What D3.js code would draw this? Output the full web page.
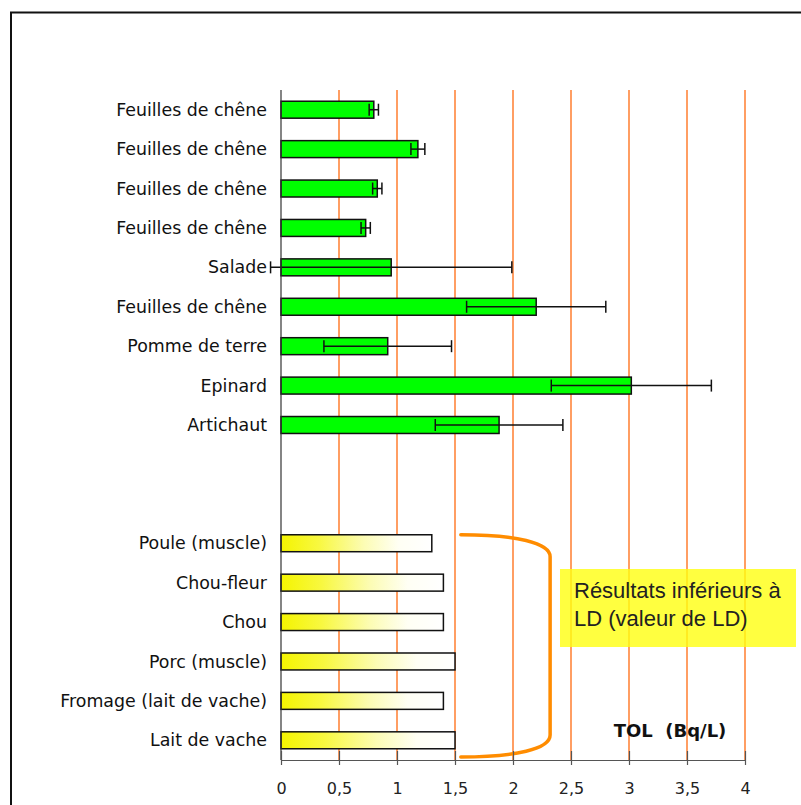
<!DOCTYPE html>
<html>
<head>
<meta charset="utf-8">
<script src="https://cdn.jsdelivr.net/npm/d3@7"></script>
<style>
  html, body { margin: 0; padding: 0; background: #fff; }
  svg { display: block; }
</style>
</head>
<body>
<svg id="chart" width="801" height="805"></svg>
<script>
// ---- data ----
const measuredLabels = ["Feuilles de chêne", "Feuilles de chêne", "Feuilles de chêne", "Feuilles de chêne",
  "Salade", "Feuilles de chêne", "Pomme de terre", "Epinard", "Artichaut"];
const measuredValues = [0.80, 1.18, 0.83, 0.73, 0.95, 2.20, 0.92, 3.02, 1.88];
const measuredErrors = [0.04, 0.06, 0.04, 0.04, 1.04, 0.60, 0.55, 0.69, 0.55];
const gapCount = 2;
const ldLabels = ["Poule (muscle)", "Chou-fleur", "Chou", "Porc (muscle)", "Fromage (lait de vache)", "Lait de vache"];
const ldValues = [1.30, 1.40, 1.40, 1.50, 1.40, 1.50];
const xTicks = [0, 0.5, 1, 1.5, 2, 2.5, 3, 3.5, 4];
const xTickLabels = ["0", "0,5", "1", "1,5", "2", "2,5", "3", "3,5", "4"];
const axisTitle = "TOL  (Bq/L)";
const noteLines = ["Résultats inférieurs à", "LD (valeur de LD)"];

(function () {
// ---- build rows ----
const rows = [];
measuredLabels.forEach((l, i) => rows.push({label: l, value: measuredValues[i], err: measuredErrors[i], type: "m"}));
for (let g = 0; g < gapCount; g++) rows.push({label: "", value: null, type: "gap"});
ldLabels.forEach((l, i) => rows.push({label: l, value: ldValues[i], type: "ld"}));

const svg = d3.select("#chart");
const pL = 281, pR = 745, pT = 90, pB = 760;

const x = d3.scaleLinear().domain([0, 4]).range([pL, pR]);
const y = d3.scaleBand().domain(d3.range(rows.length)).range([pT, pB])
  .paddingInner(0.57).paddingOuter(0.285);

// frame
svg.append("path").attr("d", `M11,820 L11,12.5 L820,12.5`).attr("fill", "none")
  .attr("stroke", "#111").attr("stroke-width", 2);

// defs gradient
const defs = svg.append("defs");
const grad = defs.append("linearGradient").attr("id", "ldgrad").attr("x1", "0").attr("x2", "1").attr("y1", "0").attr("y2", "0");
grad.append("stop").attr("offset", "0").attr("stop-color", "#f4f400");
grad.append("stop").attr("offset", "0.25").attr("stop-color", "#f8f840");
grad.append("stop").attr("offset", "0.55").attr("stop-color", "#fcfcb4");
grad.append("stop").attr("offset", "0.78").attr("stop-color", "#fffff4");
grad.append("stop").attr("offset", "1").attr("stop-color", "#ffffff");

// gridlines
svg.append("g").selectAll("line").data(xTicks.filter(d => d > 0)).join("line")
  .attr("x1", d => Math.round(x(d))).attr("x2", d => Math.round(x(d)))
  .attr("y1", pT).attr("y2", pB)
  .attr("stroke", "#ff6a10").attr("stroke-width", 1.3);

// annotation box
svg.append("rect").attr("x", 560).attr("y", 569).attr("width", 236).attr("height", 78)
  .attr("fill", "#ffff10").attr("opacity", 0.8);
const note = svg.append("text").attr("font-family", "Liberation Sans, Arial, sans-serif")
  .attr("font-size", 22).attr("fill", "#222");
noteLines.forEach((t, i) => note.append("tspan").attr("x", 574).attr("y", 598 + i * 28).text(t));

// bracket
const bTop = y(measuredLabels.length + gapCount);
const bx0 = x(1.55), bx1 = x(2.32);
const bY0 = bTop, bY1 = pB - 3;
const p = d3.path();
p.moveTo(bx0, bY0);
p.bezierCurveTo(bx0 + 55, bY0, bx1, bY0 + 8, bx1, bY0 + 22);
p.lineTo(bx1, bY1 - 22);
p.bezierCurveTo(bx1, bY1 - 8, bx0 + 55, bY1, bx0, bY1);
svg.append("path").attr("d", p.toString()).attr("fill", "none")
  .attr("stroke", "#ff8c00").attr("stroke-width", 3.5).attr("stroke-linecap", "round");

// bars
const bars = svg.append("g");
bars.selectAll("rect").data(rows.map((r, i) => ({...r, i})).filter(r => r.type !== "gap")).join("rect")
  .attr("x", x(0)).attr("y", d => y(d.i))
  .attr("width", d => x(d.value) - x(0)).attr("height", y.bandwidth())
  .attr("fill", d => d.type === "m" ? "#00ff00" : "url(#ldgrad)")
  .attr("stroke", "#111").attr("stroke-width", 1.5);

// error bars
const eb = svg.append("g").attr("stroke", "#111").attr("stroke-width", 1.5);
rows.forEach((r, i) => {
  if (r.type !== "m") return;
  const cy = y(i) + y.bandwidth() / 2;
  const lo = x(r.value - r.err), hi = x(r.value + r.err);
  eb.append("line").attr("x1", lo).attr("x2", hi).attr("y1", cy).attr("y2", cy);
  eb.append("line").attr("x1", lo).attr("x2", lo).attr("y1", cy - 6).attr("y2", cy + 6);
  eb.append("line").attr("x1", hi).attr("x2", hi).attr("y1", cy - 6).attr("y2", cy + 6);
});

// y axis line
svg.append("line").attr("x1", pL).attr("x2", pL).attr("y1", pT).attr("y2", pB)
  .attr("stroke", "#333").attr("stroke-width", 1.2);

// category labels
svg.append("g").selectAll("text").data(rows.map((r, i) => ({...r, i})).filter(r => r.label)).join("text")
  .attr("x", pL - 14).attr("y", d => y(d.i) + y.bandwidth() / 2).attr("dy", "0.35em")
  .attr("text-anchor", "end").attr("font-family", "DejaVu Sans, sans-serif").attr("font-size", 17.4)
  .attr("fill", "#111").text(d => d.label);

// x axis
const xAxis = d3.axisBottom(x).tickValues(xTicks).tickSize(0).tickFormat((d, i) => xTickLabels[i]);
const gx = svg.append("g").attr("transform", `translate(0,${pB})`).call(xAxis);
gx.select(".domain").attr("stroke", "#555").attr("stroke-width", 1.2);
gx.selectAll(".tick line").remove();
gx.selectAll(".tick").append("line").attr("y1", -9).attr("y2", 5).attr("stroke", "#555").attr("stroke-width", 1.2);
gx.selectAll(".tick text").attr("y", 34).attr("dy", 0).attr("font-family", "DejaVu Sans, sans-serif")
  .attr("font-size", 16).attr("fill", "#222");

// axis title
svg.append("text").attr("x", 670).attr("y", 737).attr("text-anchor", "middle")
  .attr("font-family", "DejaVu Sans, sans-serif").attr("font-weight", "bold").attr("font-size", 18)
  .attr("fill", "#111").attr("xml:space", "preserve").style("white-space", "pre").text(axisTitle);
})();
</script>
</body>
</html>
